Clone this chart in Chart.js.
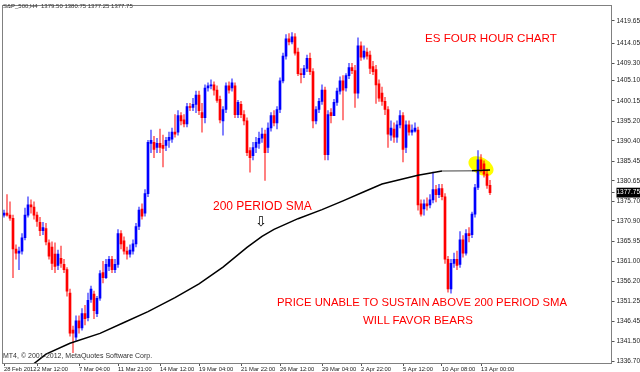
<!DOCTYPE html>
<html>
<head>
<meta charset="utf-8">
<title>ES four hour chart</title>
<script src="https://cdn.jsdelivr.net/npm/chart.js@4.4.1/dist/chart.umd.min.js"></script>
<style>
    body { margin: 0; background: #fff; }
    #wrap { position: relative; width: 640px; height: 372px; font-family: 'Liberation Sans', Arial, sans-serif; }
    #chart { display: block; }
    .note { position: absolute; color: #ff0000; font-size: 12px; line-height: 1; white-space: nowrap; }
    .tiny { position: absolute; color: #333; font-size: 6px; line-height: 1; white-space: nowrap; }
    .arrow { position: absolute; font-family: 'DejaVu Sans', sans-serif; font-size: 14px; line-height: 1; color: #000; }
</style>
</head>
<body>
<div id="wrap">
    <canvas id="chart" width="640" height="372"></canvas>
    <div class="tiny" style="left:3px; top:3px;">S&amp;P_500,H4&nbsp; 1379.50 1380.75 1377.25 1377.75</div>
    <div class="tiny" style="left:3px; top:352px; font-size:7px;">MT4, © 2001-2012, MetaQuotes Software Corp.</div>
    <div class="note" style="left:425px; top:32px; font-size:11.6px;">ES FOUR HOUR CHART</div>
    <div class="note" style="left:213px; top:200px;">200 PERIOD SMA</div>
    <div class="arrow" style="left:255px; top:214px;">⇩</div>
    <div class="note" style="left:277px; top:297px; font-size:11.3px;">PRICE UNABLE TO SUSTAIN ABOVE 200 PERIOD SMA</div>
    <div class="note" style="left:363px; top:315px; font-size:11.5px;">WILL FAVOR BEARS</div>
</div>
<script>
// ES (S&P 500) H4 candles
const SLOTS = 203; // bars that fit across the plot, incl. the empty shift space on the right

const opens = [
    1372.25, 1372.75, 1372.25, 1371.5, 1364.0, 1363.0, 1363.5, 1366.75, 1372.25, 1374.75,
    1374.25, 1372.25, 1370.5, 1368.5, 1369.0, 1365.5, 1364.5, 1362.75, 1360.0, 1361.75,
    1360.25, 1359.0, 1353.25, 1344.25, 1342.5, 1346.5, 1344.75, 1348.25, 1347.25, 1351.75,
    1353.0, 1348.25, 1352.0, 1358.25, 1357.0, 1359.75, 1361.5, 1359.0, 1360.25, 1367.75,
    1366.0, 1363.5, 1362.75, 1363.5, 1365.25, 1369.5, 1373.75, 1372.75, 1377.5, 1389.75,
    1390.0, 1388.75, 1389.75, 1389.25, 1389.25, 1390.5, 1390.75, 1392.5, 1392.5, 1396.5,
    1395.5, 1394.5, 1398.75, 1398.5, 1399.25, 1401.5, 1397.25, 1396.0, 1403.25, 1403.75,
    1404.0, 1402.75, 1400.5, 1395.25, 1398.0, 1403.75, 1403.25, 1403.75, 1396.75, 1399.25,
    1396.75, 1395.25, 1388.0, 1386.75, 1388.75, 1389.75, 1391.0, 1392.0, 1388.75, 1393.5,
    1396.5, 1394.75, 1398.0, 1405.0, 1411.0, 1415.25, 1414.5, 1415.75, 1412.0, 1406.75,
    1406.5, 1408.0, 1410.5, 1407.25, 1395.25, 1398.0, 1400.0, 1402.75, 1387.0, 1397.25,
    1396.5, 1399.75, 1402.5, 1405.0, 1403.25, 1406.25, 1408.25, 1407.5, 1402.0, 1413.5,
    1410.75, 1412.0, 1411.25, 1408.5, 1407.75, 1404.25, 1402.0, 1400.0, 1398.0, 1391.75,
    1393.25, 1391.25, 1394.25, 1396.5, 1388.75, 1394.25, 1392.5, 1392.75, 1393.0, 1375.0,
    1373.75, 1375.0, 1374.75, 1376.0, 1378.5, 1377.25, 1378.75, 1376.75, 1361.5, 1354.25,
    1360.5, 1361.5, 1360.25, 1366.25, 1363.0, 1367.75, 1367.5, 1372.5, 1379.0, 1385.75,
    1384.75, 1382.25, 1379.5
];
const highs = [
    1373.5, 1377.25, 1375.5, 1372.25, 1365.0, 1364.5, 1367.75, 1374.0, 1376.75, 1376.0,
    1375.5, 1373.0, 1371.75, 1370.5, 1370.25, 1366.25, 1365.75, 1365.5, 1363.75, 1364.75,
    1361.5, 1359.5, 1354.25, 1345.25, 1347.75, 1347.75, 1349.5, 1350.25, 1353.25, 1355.0,
    1353.75, 1352.5, 1358.75, 1361.0, 1361.5, 1362.25, 1362.25, 1361.5, 1368.75, 1368.5,
    1367.0, 1364.5, 1365.0, 1366.25, 1370.25, 1374.25, 1375.0, 1378.5, 1390.5, 1393.0,
    1391.5, 1391.0, 1393.25, 1391.75, 1391.25, 1392.5, 1393.5, 1396.75, 1397.75, 1397.25,
    1396.75, 1399.5, 1399.5, 1400.75, 1402.5, 1402.5, 1399.5, 1404.0, 1404.5, 1405.25,
    1404.75, 1403.75, 1401.25, 1398.75, 1404.5, 1404.75, 1405.5, 1404.5, 1400.25, 1400.0,
    1397.75, 1396.0, 1388.75, 1390.0, 1391.25, 1392.5, 1393.5, 1393.0, 1394.75, 1397.25,
    1397.75, 1398.75, 1405.75, 1411.75, 1416.25, 1416.5, 1416.75, 1416.5, 1413.0, 1408.0,
    1408.75, 1411.25, 1411.75, 1408.0, 1398.75, 1400.75, 1404.0, 1403.5, 1397.75, 1398.25,
    1400.5, 1403.25, 1406.0, 1406.25, 1406.75, 1409.25, 1409.25, 1408.75, 1415.5, 1414.5,
    1413.5, 1413.0, 1412.25, 1409.75, 1408.75, 1405.25, 1403.5, 1401.0, 1398.75, 1395.25,
    1394.75, 1395.25, 1397.75, 1397.25, 1395.25, 1395.25, 1394.25, 1394.75, 1393.75, 1376.0,
    1376.0, 1376.5, 1377.25, 1382.75, 1379.5, 1379.75, 1379.75, 1377.5, 1362.25, 1361.5,
    1363.0, 1363.5, 1368.25, 1367.25, 1368.75, 1369.25, 1373.0, 1379.75, 1388.0, 1387.0,
    1385.5, 1383.25, 1380.75
];
const lows = [
    1371.75, 1372.0, 1371.0, 1357.0, 1361.5, 1359.0, 1362.75, 1366.25, 1371.75, 1372.75,
    1371.25, 1369.5, 1367.25, 1367.5, 1365.0, 1361.5, 1359.0, 1358.25, 1359.0, 1359.5,
    1358.25, 1352.5, 1342.75, 1338.75, 1341.75, 1343.5, 1344.25, 1345.5, 1346.5, 1351.0,
    1347.0, 1347.5, 1351.5, 1355.75, 1356.75, 1358.75, 1358.25, 1358.25, 1359.5, 1364.0,
    1362.75, 1361.5, 1362.0, 1362.75, 1364.5, 1368.75, 1371.25, 1372.0, 1376.75, 1387.5,
    1386.25, 1387.5, 1387.5, 1384.0, 1388.0, 1388.75, 1390.0, 1391.25, 1391.75, 1394.25,
    1393.75, 1393.75, 1397.75, 1397.75, 1397.25, 1396.75, 1392.5, 1394.75, 1402.5, 1403.0,
    1401.5, 1399.75, 1394.75, 1391.75, 1397.25, 1402.0, 1402.5, 1396.0, 1396.0, 1396.0,
    1394.25, 1386.75, 1382.75, 1385.75, 1387.5, 1388.5, 1390.0, 1380.75, 1387.5, 1392.75,
    1394.0, 1393.25, 1397.25, 1404.5, 1410.25, 1413.75, 1414.0, 1411.25, 1406.25, 1404.5,
    1405.75, 1407.25, 1406.5, 1393.5, 1394.5, 1397.25, 1399.25, 1385.75, 1385.75, 1394.75,
    1396.5, 1399.0, 1401.75, 1395.5, 1402.5, 1405.5, 1406.75, 1398.5, 1400.75, 1410.0,
    1410.25, 1410.25, 1406.75, 1406.5, 1399.5, 1400.0, 1399.0, 1396.75, 1388.75, 1390.5,
    1390.0, 1390.0, 1393.5, 1385.25, 1387.5, 1391.75, 1391.75, 1392.5, 1373.5, 1372.0,
    1372.25, 1373.5, 1374.0, 1375.25, 1375.5, 1376.5, 1376.0, 1360.5, 1353.5, 1353.25,
    1359.5, 1359.0, 1359.5, 1362.0, 1362.5, 1365.75, 1366.75, 1371.75, 1378.5, 1382.75,
    1381.5, 1378.75, 1377.25
];
const closes = [
    1372.75, 1372.25, 1371.5, 1364.0, 1363.0, 1363.5, 1366.75, 1372.25, 1374.75, 1374.25,
    1372.25, 1370.75, 1368.5, 1369.25, 1365.75, 1362.25, 1360.5, 1359.75, 1362.75, 1360.5,
    1359.0, 1353.75, 1343.5, 1343.5, 1346.5, 1344.75, 1348.25, 1347.0, 1351.5, 1354.25,
    1349.0, 1352.0, 1358.0, 1357.0, 1360.25, 1361.5, 1359.0, 1360.25, 1367.75, 1365.25,
    1363.5, 1362.75, 1363.75, 1365.25, 1369.5, 1373.5, 1372.0, 1377.5, 1390.0, 1390.5,
    1388.25, 1389.75, 1388.75, 1388.5, 1390.5, 1391.25, 1392.5, 1392.0, 1396.5, 1395.25,
    1394.5, 1398.75, 1398.5, 1399.25, 1401.5, 1397.75, 1396.0, 1403.25, 1403.75, 1404.0,
    1402.75, 1400.25, 1395.5, 1398.0, 1403.75, 1402.75, 1404.5, 1396.75, 1399.75, 1396.75,
    1395.25, 1387.5, 1386.25, 1388.75, 1390.0, 1391.0, 1392.0, 1387.5, 1393.5, 1396.5,
    1394.75, 1398.0, 1405.0, 1411.0, 1415.25, 1414.5, 1415.75, 1411.75, 1406.75, 1406.5,
    1408.0, 1410.5, 1407.25, 1395.25, 1398.0, 1400.0, 1402.75, 1387.0, 1396.75, 1396.5,
    1399.75, 1402.5, 1405.0, 1402.75, 1406.25, 1408.25, 1407.5, 1402.0, 1413.5, 1410.75,
    1412.25, 1411.0, 1408.0, 1407.25, 1404.0, 1400.75, 1400.0, 1398.0, 1392.0, 1393.5,
    1391.25, 1394.25, 1396.5, 1388.25, 1394.25, 1392.5, 1393.0, 1393.5, 1374.75, 1372.5,
    1375.0, 1374.5, 1376.0, 1378.5, 1377.25, 1378.75, 1376.75, 1361.5, 1354.25, 1360.5,
    1361.5, 1360.0, 1366.25, 1363.0, 1367.75, 1367.25, 1372.5, 1379.0, 1385.75, 1383.5,
    1382.25, 1379.5, 1377.75
];

// 200 period SMA, read at a few bars along the curve
const smaIdx = [9, 14, 22, 32, 40, 48, 57, 65, 73, 81, 86, 90, 98, 106, 113, 120, 126, 138, 146, 156, 162];
const smaVal = [1335.5, 1338.4, 1341.05, 1343.45, 1346.1, 1348.75, 1352.15, 1355.5, 1359.6, 1364.4,
                1367.1, 1368.8, 1371.4, 1373.6, 1375.75, 1377.95, 1379.85, 1382.0, 1383.0, 1383.1, 1383.25];

// time axis labels and the bar they sit on
const tickIdx = [0, 11, 25, 38, 52, 65, 79, 92, 106, 119, 133, 146, 159];
const tickText = ['28 Feb 2012', '2 Mar 12:00', '7 Mar 04:00', '11 Mar 21:00', '14 Mar 12:00', '19 Mar 04:00',
                  '21 Mar 22:00', '26 Mar 12:00', '29 Mar 04:00', '2 Apr 22:00', '5 Apr 12:00', '10 Apr 08:00', '13 Apr 00:00'];

// price axis labels
const priceTicks = [1419.65, 1414.05, 1409.30, 1405.10, 1400.15, 1395.20, 1390.40, 1385.45, 1380.65, 1377.75,
                    1375.70, 1370.90, 1365.95, 1361.00, 1356.20, 1351.25, 1346.45, 1341.50, 1336.70];
const lastPrice = 1377.75;

const UP = '#0000ff';
const DOWN = '#ff0000';
const HIGHLIGHT = { bar: 159, price: 1384.2 };

const slots = Array.from({ length: SLOTS }, (_, i) => i);
const isUp = i => closes[i] >= opens[i];

const sma = new Array(SLOTS).fill(null);
smaIdx.forEach((k, j) => { sma[k] = smaVal[j]; });

const tickLabel = {};
tickIdx.forEach((k, j) => { tickLabel[k] = tickText[j]; });

// yellow marker behind the candles, grey frame round the plot
const framePlugin = {
    id: 'frame',
    beforeDatasetsDraw(chart) {
        const { ctx, scales: { x, y } } = chart;
        ctx.save();
        ctx.translate(x.getPixelForValue(HIGHLIGHT.bar), y.getPixelForValue(HIGHLIGHT.price));
        ctx.rotate(0.5);
        ctx.beginPath();
        ctx.ellipse(0, 0, 13.5, 8.5, 0, 0, Math.PI * 2);
        ctx.fillStyle = '#ffff00';
        ctx.fill();
        ctx.restore();
    },
    afterDraw(chart) {
        const { ctx, chartArea: a } = chart;
        ctx.save();
        ctx.strokeStyle = '#808080';
        ctx.lineWidth = 1;
        ctx.strokeRect(Math.floor(a.left) + 0.5, Math.floor(a.top) + 0.5,
                       Math.round(a.right - a.left), Math.round(a.bottom - a.top));
        ctx.restore();
    }
};

Chart.defaults.font.family = "'Liberation Sans', Arial, sans-serif";

new Chart(document.getElementById('chart'), {
    type: 'bar',
    data: {
        labels: slots,
        datasets: [
            {
                type: 'line',
                data: sma,
                borderColor: '#000',
                borderWidth: 1.5,
                pointRadius: 0,
                spanGaps: true,
                order: 0,
                segment: {
                    borderColor: c => (c.p0DataIndex >= 146 && c.p1DataIndex <= 156) ? '#808080' : '#000'
                }
            },
            {
                data: lows.map((l, i) => [l, highs[i]]),
                backgroundColor: c => isUp(c.dataIndex) ? 'rgba(0,0,255,0.6)' : 'rgba(255,0,0,0.6)',
                barThickness: 1,
                grouped: false,
                order: 2
            },
            {
                data: opens.map((o, i) => [o, closes[i]]),
                backgroundColor: c => isUp(c.dataIndex) ? UP : DOWN,
                barThickness: 2,
                minBarLength: 1,
                grouped: false,
                order: 1
            }
        ]
    },
    options: {
        responsive: false,
        animation: false,
        events: [],
        layout: { padding: { left: 2.5, top: 2, right: 0, bottom: 0 } },
        plugins: {
            legend: { display: false },
            tooltip: { enabled: false }
        },
        scales: {
            x: {
                offset: true,
                grid: {
                    drawOnChartArea: false,
                    offset: false,
                    tickLength: 2,
                    color: c => tickLabel[c.index] !== undefined ? '#555' : 'rgba(0,0,0,0)'
                },
                border: { display: false },
                ticks: {
                    autoSkip: false,
                    maxRotation: 0,
                    minRotation: 0,
                    align: 'start',
                    padding: 0,
                    font: { size: 5.8 },
                    color: '#222',
                    callback: (v, i) => tickLabel[i] || ''
                },
                afterFit: s => { s.height = 8; }
            },
            y: {
                position: 'right',
                min: 1335.98,
                max: 1423.26,
                afterBuildTicks: s => { s.ticks = priceTicks.map(v => ({ value: v })); },
                grid: { drawOnChartArea: false, tickLength: 3, color: '#555' },
                border: { display: false },
                ticks: {
                    autoSkip: false,
                    padding: 2,
                    font: { size: 6.5 },
                    color: c => c.tick && c.tick.value === lastPrice ? '#fff' : '#222',
                    showLabelBackdrop: c => !!(c.tick && c.tick.value === lastPrice),
                    backdropColor: '#000',
                    backdropPadding: { x: 0, y: 1 },
                    callback: v => v.toFixed(2)
                },
                afterFit: s => { s.width = 28.5; }
            }
        }
    },
    plugins: [framePlugin]
});
</script>
</body>
</html>
